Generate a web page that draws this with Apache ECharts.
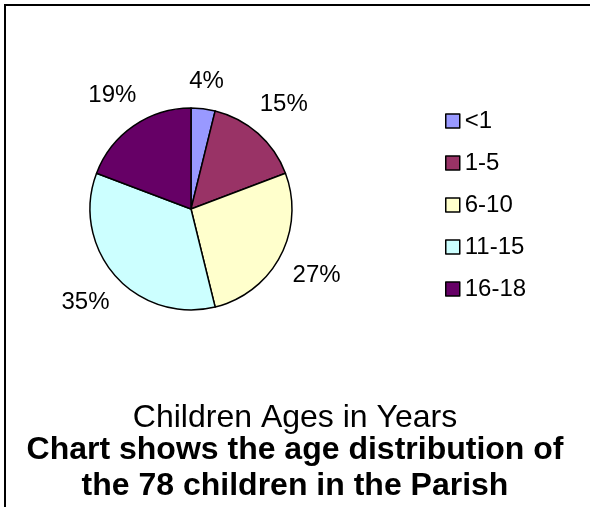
<!DOCTYPE html>
<html>
<head>
<meta charset="utf-8">
<script src="https://cdn.jsdelivr.net/npm/echarts@6/dist/echarts.min.js"></script>
<style>
html,body{margin:0;padding:0;background:#fff;}
#chart{width:590px;height:507px;}
</style>
</head>
<body>
<div id="chart"></div>
<script>
var categories = ['<1', '1-5', '6-10', '11-15', '16-18'];
var counts = [3, 12, 21, 27, 15];
var colors = ['#9999FF', '#993366', '#FFFFCC', '#CCFFFF', '#660066'];
var titleText = 'Children Ages in Years';
var captionText = 'Chart shows the age distribution of\nthe 78 children in the Parish';

var FONT = 'Liberation Sans, Arial, Helvetica, sans-serif';
var chart = echarts.init(document.getElementById('chart'), null, {renderer: 'canvas'});

var pieData = categories.map(function (c, i) {
  return {name: c, value: counts[i], itemStyle: {color: colors[i]}};
});

var option = {
  backgroundColor: '#fff',
  animation: false,
  textStyle: {fontFamily: FONT, color: '#000'},
  graphic: [{
    type: 'rect',
    shape: {x: 5, y: 5, width: 700, height: 700},
    style: {fill: null, stroke: '#000', lineWidth: 2}
  }],
  title: [{
    text: titleText,
    left: 'center',
    top: 397,
    textStyle: {fontFamily: FONT, fontSize: 32, fontWeight: 'normal', color: '#000', lineHeight: 32}
  }, {
    text: captionText,
    left: 'center',
    top: 427,
    textStyle: {fontFamily: FONT, fontSize: 32, fontWeight: 'bold', color: '#000', lineHeight: 36}
  }],
  legend: {
    orient: 'vertical',
    left: 440,
    top: 104,
    itemWidth: 14,
    itemHeight: 14,
    itemGap: 18,
    icon: 'rect',
    itemStyle: {borderColor: '#000', borderWidth: 1.5},
    textStyle: {fontFamily: FONT, fontSize: 24, color: '#000', lineHeight: 24, padding: [0, 0, 0, 0]},
    data: categories,
    selectedMode: false
  },
  series: [{
    type: 'pie',
    center: [191, 209],
    radius: 101,
    startAngle: 90,
    clockwise: true,
    avoidLabelOverlap: false,
    data: pieData,
    itemStyle: {borderColor: '#000', borderWidth: 1.5},
    emphasis: {disabled: true},
    label: {
      show: true,
      position: 'outside',
      formatter: function (p) { return Math.round(p.percent) + '%'; },
      fontFamily: FONT,
      fontSize: 24,
      color: '#000'
    },
    labelLine: {show: true, length: 10, length2: 0, lineStyle: {opacity: 0}},
    labelLayout: function (p) {
      var pts = p.labelLinePoints;
      if (!pts) { return {}; }
      var dx = pts[1][0] - pts[0][0], dy = pts[1][1] - pts[0][1];
      var len = Math.sqrt(dx * dx + dy * dy) || 1;
      var ux = dx / len, uy = dy / len;
      var w = p.labelRect.width, h = p.labelRect.height;
      var d = 14 + Math.abs(ux) * w / 2 + Math.abs(uy) * h / 2;
      return {x: pts[0][0] + ux * d, y: pts[0][1] + uy * d, align: 'center', verticalAlign: 'middle'};
    }
  }]
};
chart.setOption(option);
</script>
</body>
</html>
